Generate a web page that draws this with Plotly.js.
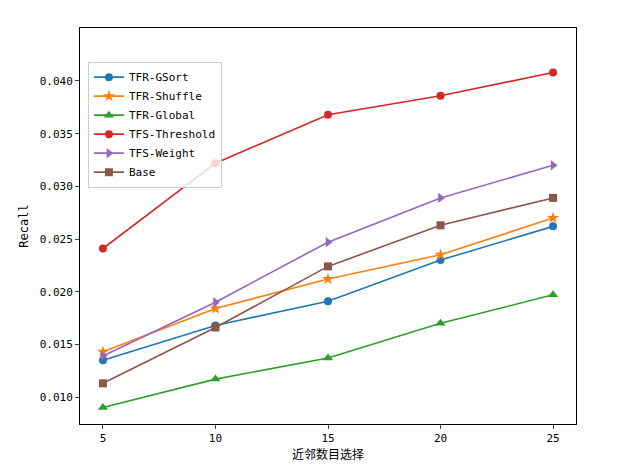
<!DOCTYPE html>
<html>
<head>
<meta charset="utf-8">
<script src="https://cdn.plot.ly/plotly-3.0.1.min.js"></script>
<style>body{margin:0}</style>
</head>
<body>
<div id="graphdiv" style="width:640px;height:476px"></div>
<script>
let neighbors = [5, 10, 15, 20, 25];
let gsort = [0.0135, 0.0168, 0.0191, 0.0230, 0.0262];
let shuffle = [0.0143, 0.0184, 0.0212, 0.0235, 0.0270];
let globalRec = [0.0090, 0.0117, 0.0137, 0.0170, 0.0197];
let threshold = [0.0241, 0.0322, 0.0368, 0.0386, 0.0408];
let weight = [0.0139, 0.0190, 0.0247, 0.0289, 0.0320];
let base = [0.0113, 0.0166, 0.0224, 0.0263, 0.0289];

let names = ['TFR-GSort', 'TFR-Shuffle', 'TFR-Global', 'TFS-Threshold', 'TFS-Weight', 'Base'];
let series = [gsort, shuffle, globalRec, threshold, weight, base];
let colors = ['#1f77b4', '#ff7f0e', '#2ca02c', '#d62728', '#9467bd', '#8c564b'];
let symbols = ['circle', 'star', 'triangle-up', 'circle', 'triangle-right', 'square'];
let sizes = [8, 9, 9, 8, 9, 8];

let data = [];
for (let i = 0; i < series.length; i++) {
  data.push({
    x: neighbors,
    y: series[i],
    name: names[i],
    type: 'scatter',
    mode: 'lines+markers',
    line: {color: colors[i], width: 1.6},
    marker: {color: colors[i], symbol: symbols[i], size: sizes[i]}
  });
}

let font = '"DejaVu Sans Mono", "Noto Sans CJK SC", monospace';
let layout = {
  width: 640, height: 476,
  margin: {l: 80, r: 64, t: 28, b: 52},
  paper_bgcolor: 'white', plot_bgcolor: 'white',
  font: {family: font, size: 11, color: '#000'},
  showlegend: true,
  legend: {x: 0.016, y: 0.915, xanchor: 'left', yanchor: 'top', bgcolor: 'rgba(255,255,255,0.8)',
           bordercolor: '#ccc', borderwidth: 1, font: {size: 11}, tracegroupgap: 0},
  xaxis: {
    range: [3.98, 26.02], tickvals: neighbors, ticks: 'outside', ticklen: 4,
    showgrid: false, zeroline: false, showline: true, mirror: true, linecolor: '#000', linewidth: 1,
    title: {text: '近邻数目选择', font: {size: 12, family: '"Noto Sans CJK SC", sans-serif'}, standoff: 6}
  },
  yaxis: {
    range: [0.00744, 0.04503], tickvals: [0.010, 0.015, 0.020, 0.025, 0.030, 0.035, 0.040],
    tickformat: '.3f', ticks: 'outside', ticklen: 4,
    showgrid: false, zeroline: false, showline: true, mirror: true, linecolor: '#000', linewidth: 1,
    title: {text: 'Recall', font: {size: 12}, standoff: 8}
  }
};

Plotly.newPlot('graphdiv', data, layout, {displayModeBar: false});
</script>
</body>
</html>
